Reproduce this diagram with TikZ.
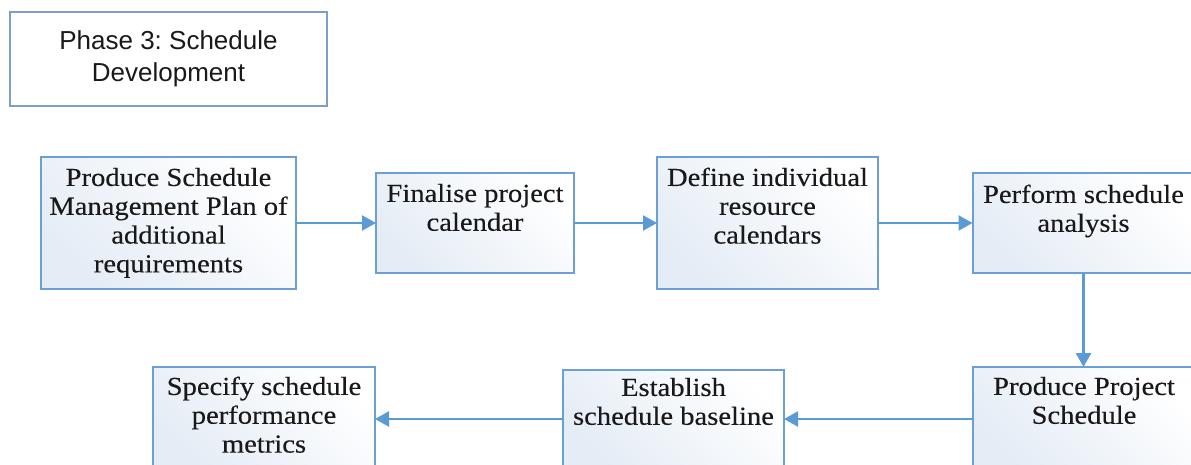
\documentclass[tikz,border=0pt]{standalone}
\usepackage{fontspec}
\setmainfont{Liberation Serif}
\newfontfamily\titlefont{Liberation Sans}
\newfontfamily\stepfont{Liberation Serif}[FakeStretch=1.1, FakeBold=0.2]
\usetikzlibrary{arrows.meta}
\frenchspacing

\definecolor{edgeblue}{RGB}{108,159,212}
\definecolor{arrowblue}{RGB}{91,155,213}
\definecolor{boxtint}{RGB}{228,236,245}
\definecolor{titleedge}{RGB}{125,158,200}
\definecolor{inkblack}{RGB}{25,25,25}

% text of a process box: width, height, gap above the first line, lines
\newcommand{\steptext}[4]{%
  \parbox[c][#2][t]{#1}{\stepfont\fontsize{26pt}{28.8pt}\selectfont
    \centering\vspace*{#3}\strut#4\par}}

\tikzset{
  stepbox/.style={draw=edgeblue, line width=2pt, inner sep=0pt, outer sep=0pt,
    top color=white, bottom color=boxtint, shading angle=-45, text=inkblack},
  titlebox/.style={draw=titleedge, line width=1.6pt, fill=white, inner sep=0pt,
    align=center, text=inkblack,
    font=\titlefont\fontsize{26pt}{32pt}\selectfont},
  flow/.style={draw=arrowblue, line width=2.4pt,
    -{Triangle[length=14pt,width=15pt]}},
}

\begin{document}
\begin{tikzpicture}[x=1pt, y=-1pt]
  \fill[white] (0,0) rectangle (1191,465);
  \useasboundingbox (0,0) rectangle (1191,465);
  \clip (0,0) rectangle (1191,465);

  % heading
  \node[titlebox, minimum width=317pt, minimum height=94pt] (T) at (168.5,59)
    {Phase 3: Schedule\\Development};

  % upper row
  \node[stepbox] (A) at (168.5,223)
    {\steptext{255pt}{132pt}{8.8pt}{Produce Schedule\\Management Plan of\\additional\\requirements}};
  \node[stepbox] (B) at (475,223)
    {\steptext{198pt}{100pt}{8.8pt}{Finalise project\\calendar}};
  \node[stepbox] (C) at (767.5,223)
    {\steptext{221pt}{132pt}{8.8pt}{Define individual\\resource\\calendars}};
  \node[stepbox] (D) at (1083.5,223)
    {\steptext{222pt}{100pt}{9.8pt}{Perform schedule\\analysis}};

  % lower row
  \node[stepbox] (F) at (1084,419)
    {\steptext{222pt}{104pt}{7.8pt}{Produce Project\\Schedule}};
  \node[stepbox] (E) at (673.5,419)
    {\steptext{221pt}{98pt}{5.8pt}{Establish\\schedule baseline}};
  \node[stepbox] (G) at (264,419)
    {\steptext{222pt}{104pt}{7.8pt}{Specify schedule\\performance\\metrics}};

  % connectors
  \draw[flow] (A.east) -- (B.west);
  \draw[flow] (B.east) -- (C.west);
  \draw[flow] (C.east) -- (D.west);
  \draw[flow] (D.south) -- (D.south |- F.north);
  \draw[flow] (F.west) -- (E.east);
  \draw[flow] (E.west) -- (G.east);
\end{tikzpicture}
\end{document}
